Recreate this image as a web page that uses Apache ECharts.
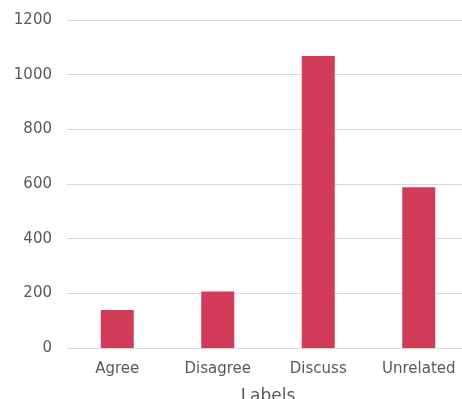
<!DOCTYPE html>
<html>
<head>
<meta charset="utf-8">
<script src="https://cdn.jsdelivr.net/npm/echarts@6/dist/echarts.min.js"></script>
<style>html,body{margin:0;padding:0;background:#fff;}#c{width:462px;height:399px;}</style>
</head>
<body>
<div id="c"></div>
<script>
var categories = ['Agree', 'Disagree', 'Discuss', 'Unrelated'];
var counts = [139, 207, 1068, 588];
var xAxisName = 'Labels';

var chart = echarts.init(document.getElementById('c'), null, {renderer: 'canvas'});
chart.setOption({
  animation: false,
  backgroundColor: '#ffffff',
  grid: {left: 67, right: -7, top: 20, bottom: 51, containLabel: false, outerBoundsMode: 'none'},
  xAxis: {
    type: 'category',
    data: categories,
    name: xAxisName,
    nameLocation: 'middle',
    nameGap: 40,
    nameTextStyle: {fontFamily: 'DejaVu Sans', fontSize: 17, color: '#595959'},
    axisLine: {show: true, lineStyle: {color: '#d9d9d9', width: 1}},
    axisTick: {show: false},
    axisLabel: {fontFamily: 'DejaVu Sans', fontSize: 15, color: '#595959', margin: 14}
  },
  yAxis: {
    type: 'value',
    min: 0,
    max: 1200,
    interval: 200,
    axisLine: {show: false},
    axisTick: {show: false},
    axisLabel: {fontFamily: 'DejaVu Sans', fontSize: 15, color: '#595959', margin: 15,
      formatter: function (v) { return String(v); }},
    splitLine: {lineStyle: {color: '#d9d9d9', width: 1}}
  },
  series: [{
    type: 'bar',
    data: counts,
    barWidth: 33,
    itemStyle: {color: '#D13B57'}
  }]
});
</script>
</body>
</html>
